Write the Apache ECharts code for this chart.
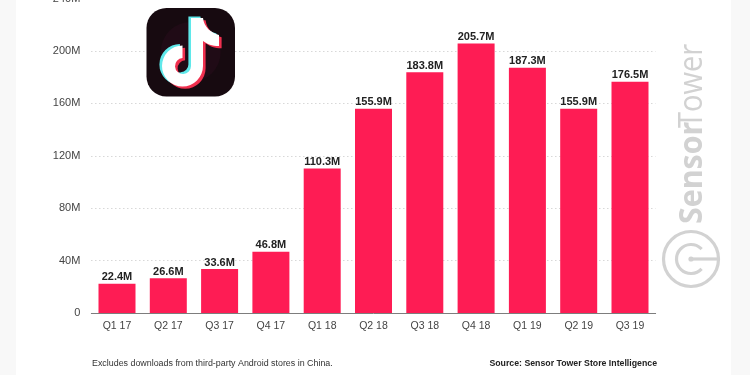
<!DOCTYPE html>
<html>
<head>
<meta charset="utf-8">
<style>
html,body{margin:0;padding:0;background:#fff}
#c{width:750px;height:375px;filter:blur(0.45px)}
</style>
<script src="https://cdn.jsdelivr.net/npm/echarts@6/dist/echarts.min.js"></script>
</head>
<body>
<div id="c"></div>
<script>
const categories = ['Q1 17','Q2 17','Q3 17','Q4 17','Q1 18','Q2 18','Q3 18','Q4 18','Q1 19','Q2 19','Q3 19'];
const downloads = [22.4,26.6,33.6,46.8,110.3,155.9,183.8,205.7,187.3,155.9,176.5];
const yTicks = {min:0,max:240,interval:40};
const footnote = 'Excludes downloads from third-party Android stores in China.';
const source = 'Source: Sensor Tower Store Intelligence';
const fontFamily = '"Liberation Sans", Arial, sans-serif';
const notePath = 'M191 18H203C204 27 211 33 219 35V46C212 46 207 44 203 41V66A20.5 20.5 0 1 1 182.5 45.5V58A8 8 0 1 0 191 66Z';
const wm = '#d2d2d2';

echarts.graphic.registerShape('noteGlyph', echarts.graphic.extendPath(notePath, {}));

const chart = echarts.init(document.getElementById('c'), null, {renderer:'canvas'});
chart.setOption({
  animation:false,
  backgroundColor:'#ffffff',
  grid:{left:91.35,right:94.35,top:-1.4,bottom:62,containLabel:false,outerBoundsMode:'none'},
  xAxis:{
    type:'category',data:categories,
    axisTick:{show:false},
    axisLine:{lineStyle:{color:'#7d7d7d',width:1}},
    axisLabel:{color:'#444',fontSize:10.5,fontFamily,margin:8,interval:0}
  },
  yAxis:{
    type:'value',min:yTicks.min,max:yTicks.max,interval:yTicks.interval,
    axisLine:{show:false},axisTick:{show:false},
    axisLabel:{color:'#444',fontSize:11,fontFamily,margin:11,
      formatter:v=>v===0?'0':v+'M'},
    splitLine:{lineStyle:{color:'#c4c4c4',type:[1,3],width:1}}
  },
  series:[{
    type:'bar',data:downloads,barWidth:37,
    itemStyle:{color:'#fe1c54'},
    label:{show:true,position:'top',distance:1,color:'#222',fontSize:11,fontWeight:'bold',fontFamily,
      formatter:p=>p.value.toFixed(1)+'M'}
  }],
  graphic:[
    {type:'rect',silent:true,z:-10,shape:{x:0,y:0,width:16,height:375},style:{fill:'#f8f8f8'}},
    {type:'rect',silent:true,z:-10,shape:{x:731,y:0,width:19,height:375},style:{fill:'#f8f8f8'}},
    // app logo
    {type:'rect',z:20,shape:{x:146.5,y:8,width:88.5,height:88.5,r:20},style:{fill:'#170a10'}},
    {type:'circle',z:20,shape:{cx:190.7,cy:52,r:30},style:{fill:'#2a0c1b',opacity:0.5}},
    {type:'noteGlyph',z:21,x:-2.6,y:-1.6,style:{fill:'#5fe8ea'}},
    {type:'noteGlyph',z:21,x:2.6,y:2.2,style:{fill:'#f0304f'}},
    {type:'noteGlyph',z:22,style:{fill:'#ffffff'}},
    // watermark
    {type:'text',z:5,x:693,y:224,rotation:Math.PI/2,scaleX:0.92,
      style:{text:'Sensor',fontSize:33,fontWeight:'bold',fontFamily:'"Open Sans",sans-serif',fill:wm,align:'left',verticalAlign:'middle'}},
    {type:'text',z:5,x:693,y:128,rotation:Math.PI/2,scaleX:0.88,
      style:{text:'Tower',fontSize:33,fontFamily:'"Open Sans",sans-serif',fill:wm,align:'left',verticalAlign:'middle'}},
    {type:'circle',z:5,shape:{cx:691,cy:259,r:27.5},style:{fill:'none',stroke:wm,lineWidth:3.2}},
    {type:'arc',z:5,shape:{cx:691,cy:259,r:14.5,startAngle:0.75,endAngle:-0.75,clockwise:true},style:{fill:'none',stroke:wm,lineWidth:3.2}},
    {type:'line',z:5,shape:{x1:691,y1:259,x2:718,y2:259},style:{stroke:wm,lineWidth:3.2}},
    {type:'circle',z:5,shape:{cx:691,cy:259,r:2.6},style:{fill:wm}},
    // notes
    {type:'text',z:5,x:92,y:364,style:{text:footnote,fill:'#333',fontSize:8.9,fontFamily,verticalAlign:'middle',align:'left'}},
    {type:'text',z:5,x:657,y:364,style:{text:source,fill:'#222',fontSize:8.75,fontWeight:'bold',fontFamily,verticalAlign:'middle',align:'right'}}
  ]
});
</script>
</body>
</html>
